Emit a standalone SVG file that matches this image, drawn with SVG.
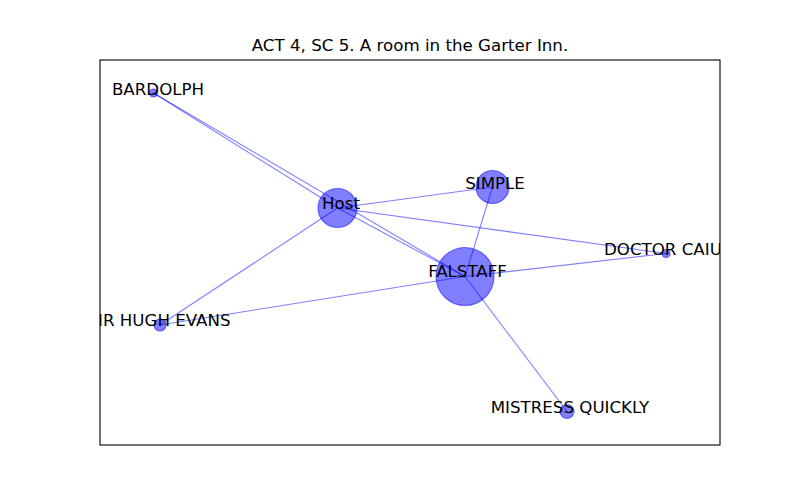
<svg xmlns="http://www.w3.org/2000/svg" width="800" height="500" viewBox="0 0 800 500">
<style>
.edge{stroke:#0000ff;stroke-opacity:0.5;stroke-width:1.1;fill:none}
.node{fill:#0000ff;fill-opacity:0.5;stroke:#0000ff;stroke-opacity:0.5;stroke-width:1.2}
.lbl{font-family:"DejaVu Sans",sans-serif;font-size:16.67px;fill:#000}
</style>
<defs><clipPath id="ax"><rect x="100" y="60" width="620" height="385"/></clipPath></defs>
<rect width="800" height="500" fill="#fff"/>
<text class="lbl" x="410" y="51" text-anchor="middle">ACT 4, SC 5. A room in the Garter Inn.</text>
<g id="connectors" clip-path="url(#ax)">
<line class="edge" x1="153.5" y1="93" x2="337.5" y2="208"/>
<line class="edge" x1="153.5" y1="93" x2="465" y2="276.5"/>
<line class="edge" x1="337.5" y1="208" x2="492.5" y2="187"/>
<line class="edge" x1="337.5" y1="208" x2="666" y2="253.5"/>
<line class="edge" x1="337.5" y1="208" x2="465" y2="276.5"/>
<line class="edge" x1="337.5" y1="208" x2="160" y2="325"/>
<line class="edge" x1="492.5" y1="187" x2="465" y2="276.5"/>
<line class="edge" x1="465" y1="276.5" x2="666" y2="253.5"/>
<line class="edge" x1="465" y1="276.5" x2="160" y2="325"/>
<line class="edge" x1="465" y1="276.5" x2="567" y2="411.5"/>
</g>
<g id="node-bardolph" clip-path="url(#ax)"><circle class="node" cx="153.5" cy="93" r="4"/><text class="lbl" x="158" y="94.5" text-anchor="middle">BARDOLPH</text></g>
<g id="node-host" clip-path="url(#ax)"><circle class="node" cx="337.5" cy="208" r="19.5"/><text class="lbl" x="341" y="209" text-anchor="middle">Host</text></g>
<g id="node-simple" clip-path="url(#ax)"><circle class="node" cx="492.5" cy="187" r="16.5"/><text class="lbl" x="495" y="189" text-anchor="middle">SIMPLE</text></g>
<g id="node-falstaff" clip-path="url(#ax)"><circle class="node" cx="465" cy="276.5" r="29"/><text class="lbl" x="467.5" y="277" text-anchor="middle">FALSTAFF</text></g>
<g id="node-doctor-caius" clip-path="url(#ax)"><circle class="node" cx="666" cy="253.5" r="4"/><text class="lbl" x="604" y="254.5" text-anchor="start">DOCTOR CAIU</text></g>
<g id="node-sir-hugh-evans" clip-path="url(#ax)"><circle class="node" cx="160" cy="325" r="6"/><text class="lbl" x="98" y="325.5" text-anchor="start">IR HUGH EVANS</text></g>
<g id="node-mistress-quickly" clip-path="url(#ax)"><circle class="node" cx="567" cy="411.5" r="7"/><text class="lbl" x="570" y="413" text-anchor="middle">MISTRESS QUICKLY</text></g>
<rect x="100" y="60" width="620" height="385" fill="none" stroke="#000" stroke-width="1.1"/>
</svg>
